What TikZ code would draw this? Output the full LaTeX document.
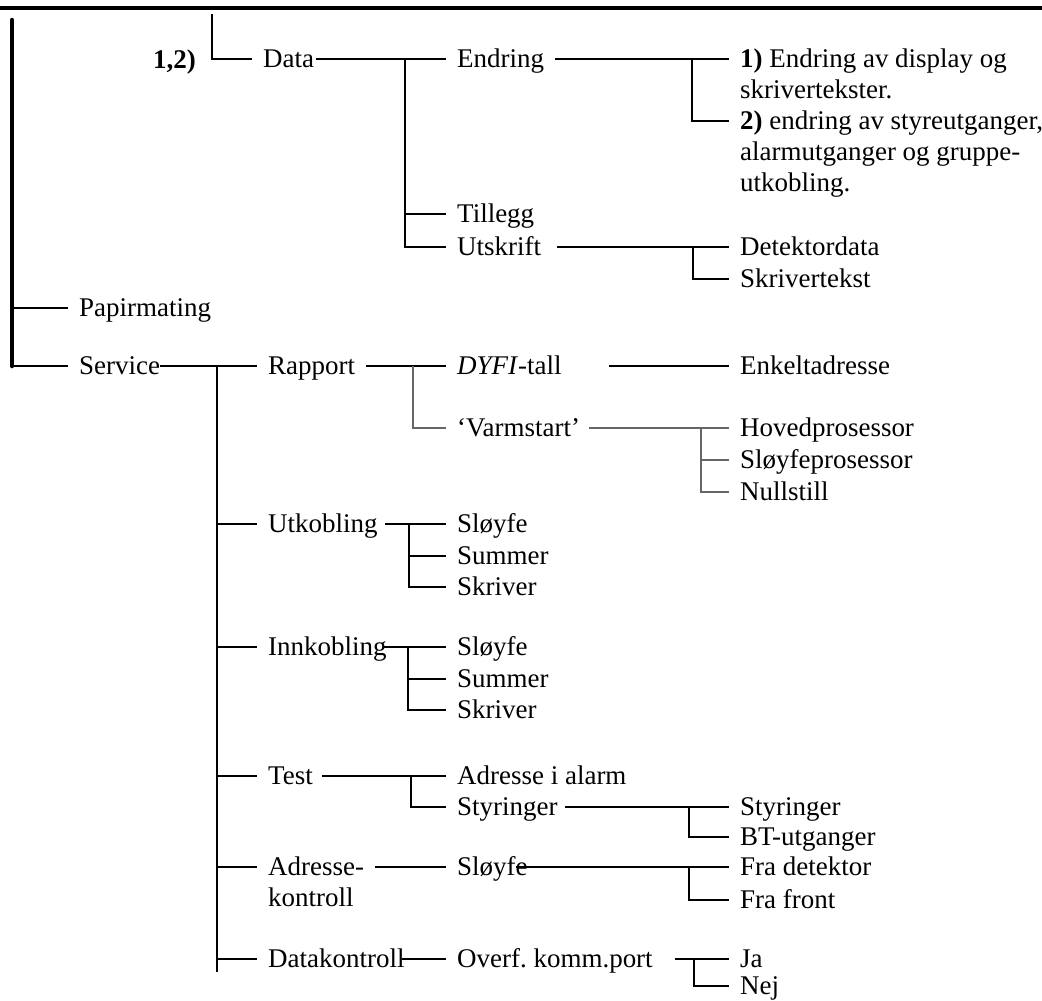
\documentclass[tikz,border=0pt]{standalone}
\usepackage{fontspec}
\setmainfont{Liberation Serif}
\definecolor{faint}{gray}{0.4}
\tikzset{
  item/.style={anchor=west, inner xsep=0pt, inner ysep=1pt, outer xsep=5pt,
    text height=8pt, text depth=0pt, font=\fontsize{12pt}{13.8pt}\selectfont\frenchspacing},
  link/.style={line width=0.8pt},
  weak/.style={line width=0.5pt, draw=faint}
}
\begin{document}
\begin{tikzpicture}[x=0.445pt, y=-0.445pt]
        \useasboundingbox (0,0) rectangle (1042,1001);
        \draw [line width=1.5pt] (0,8) -- (1042,8);

        % menu levels
        \coordinate (root) at (12,20);
        \coordinate (top) at (212,14);
        \node[item] (papir) at (68,308) {Papirmating};
        \node[item] (service) at (68,366) {Service};
        \draw [line width=2pt, line cap=round] (root) -- (root |- service.west);
        \draw [link] (root |- papir.west) -- (papir.west);
        \draw [link] (root |- service.west) -- (service.west);

        % Data
        \node[item] (ref) at (142,60) {\textbf{1,2)}};
        \node[item] (data) at (252,59) {Data};
        \node[item] (endring) at (446,59) {Endring};
        \node[item] (tillegg) at (446,214) {Tillegg};
        \node[item] (utskrift) at (446,247) {Utskrift};
        \node[item] (endr1) at (729,59) {\textbf{1)} Endring av display og};
        \node[item] (endr1b) at (729,90) {skrivertekster.};
        \node[item] (endr2) at (729,121) {\textbf{2)} endring av styreutganger,};
        \node[item] (endr2b) at (729,152) {alarmutganger og gruppe-};
        \node[item] (endr2c) at (729,183) {utkobling.};
        \node[item] (detdata) at (729,247) {Detektordata};
        \node[item] (skrtekst) at (729,279) {Skrivertekst};

        \coordinate (fdata) at (405,59);
        \coordinate (fendr) at (692,59);
        \coordinate (futskr) at (693,247);
        \draw [link] (top) |- (data.west);
        \draw [link] ([xshift=-4pt]data.east) -- (endring.west);
        \draw [link] (fdata) |- (tillegg.west) (fdata) |- (utskrift.west);
        \draw [link] (endring.east) -- (endr1.west);
        \draw [link] (fendr) |- (endr2.west);
        \draw [link] ([xshift=2pt]utskrift.east) -- (detdata.west);
        \draw [link] (futskr) |- (skrtekst.west);

        % Service
        \node[item] (rapport) at (257,366) {Rapport};
        \node[item] (dyfi) at (446,366) {\textit{DYFI}-tall};
        \node[item] (enkelt) at (729,366) {Enkeltadresse};
        \node[item] (varm) at (446,428) {‘Varmstart’};
        \node[item] (hoved) at (729,428) {Hovedprosessor};
        \node[item] (slpros) at (729,460) {Sløyfeprosessor};
        \node[item] (nullst) at (729,492) {Nullstill};
        \node[item] (utkob) at (257,524) {Utkobling};
        \node[item] (innkob) at (257,647) {Innkobling};
        \node[item] (test) at (257,776) {Test};
        \node[item] (adralarm) at (446,776) {Adresse i alarm};
        \node[item] (styr) at (446,807) {Styringer};
        \node[item] (styrut) at (729,807) {Styringer};
        \node[item] (btut) at (729,837) {BT-utganger};
        \node[item] (adrk) at (257,867) {Adresse-};
        \node[item] (adrkb) at (257,898) {kontroll};
        \node[item] (sloyfe) at (446,867) {Sløyfe};
        \node[item] (fradet) at (729,867) {Fra detektor};
        \node[item] (frafront) at (729,900) {Fra front};
        \node[item] (datak) at (257,959) {Datakontroll};
        \node[item] (overf) at (446,959) {Overf. komm.port};
        \node[item] (ja) at (729,959) {Ja};
        \node[item] (nej) at (729,986) {Nej};

        \coordinate (fserv) at (217,366);
        \coordinate (send) at (217,972);
        \coordinate (frapp) at (413,366);
        \coordinate (fvarm) at (701,428);
        \coordinate (ftest) at (411,776);
        \coordinate (fstyr) at (689,807);
        \coordinate (fsloy) at (689,867);
        \coordinate (foverf) at (694,959);

        \draw [link] ([xshift=-5pt]service.east) -- (rapport.west);
        \draw [link] (fserv) -- (send);
        \foreach \nd in {utkob,innkob,test,adrk,datak}
        \draw [link] (fserv |- \nd.west) -- (\nd.west);

        \draw [link] (rapport.east) -- (dyfi.west);
        \draw [link] ([xshift=16pt]dyfi.east) -- (enkelt.west);
        \draw [weak] (frapp) |- (varm.west);
        \draw [weak] ([xshift=-1pt]varm.east) -- (hoved.west);
        \draw [weak] (fvarm) |- (slpros.west) (fvarm) |- (nullst.west);

        \foreach \grp/\y/\dx/\fx in {utkob/524/-1.5/409, innkob/647/-6/408} {
          \node[item] (\grp-1) at (446,\y) {Sløyfe};
          \node[item] (\grp-2) at (446,\y+32) {Summer};
          \node[item] (\grp-3) at (446,\y+63) {Skriver};
          \coordinate (\grp-f) at (\fx,\y);
          \draw [link] ([xshift=\dx pt]\grp.east) -- (\grp-1.west);
          \draw [link] (\grp-f) |- (\grp-2.west) (\grp-f) |- (\grp-3.west);
        }

        \draw [link] ([xshift=-1pt]test.east) -- (adralarm.west);
        \draw [link] (ftest) |- (styr.west);
        \draw [link] ([xshift=-1.5pt]styr.east) -- (styrut.west);
        \draw [link] (fstyr) |- (btut.west);
        \draw [link] (adrk.east) -- (sloyfe.west);
        \draw [link] ([xshift=-10pt]sloyfe.east) -- (fradet.west);
        \draw [link] (fsloy) |- (frafront.west);
        \draw [link] ([xshift=-6pt]datak.east) -- (overf.west);
        \draw [link] ([xshift=5pt]overf.east) -- (ja.west);
        \draw [link] (foverf) |- (nej.west);
      \end{tikzpicture}
\end{document}
